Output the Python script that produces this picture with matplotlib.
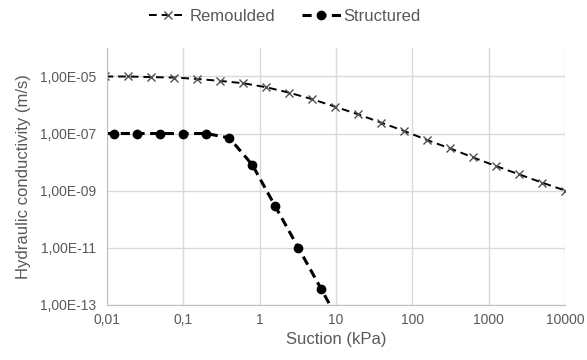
import numpy as np
import matplotlib
matplotlib.use("Agg")
import matplotlib.pyplot as plt
from matplotlib.ticker import FixedLocator, NullLocator

# Remoulded sample (first point sits just left of the axis and gets clipped)
suction_rem = [0.00954, 0.0191, 0.0381, 0.0763, 0.153, 0.305, 0.610, 1.22, 2.44,
               4.88, 9.77, 19.5, 39.1, 78.1, 156, 313, 625, 1250, 2500, 5000, 10000]
k_rem = [1.0e-5, 1.0e-5, 9.5e-6, 9.2e-6, 8.2e-6, 7.0e-6, 5.8e-6, 4.2e-6, 2.7e-6,
         1.6e-6, 8.7e-7, 4.7e-7, 2.4e-7, 1.23e-7, 5.9e-8, 3.0e-8, 1.45e-8,
         7.2e-9, 3.7e-9, 1.9e-9, 1.0e-9]

# Structured sample (first and last points are outside the plotted range)
suction_str = [0.00625, 0.0125, 0.025, 0.05, 0.1, 0.2, 0.4, 0.8, 1.6, 3.2, 6.4, 12.8]
k_str = [1.0e-7, 1.0e-7, 1.0e-7, 1.0e-7, 1.0e-7, 1.0e-7, 7.0e-8, 8.0e-9,
         2.8e-10, 1.0e-11, 3.5e-13, 1.2e-14]

x_ticks = [0.01, 0.1, 1, 10, 100, 1000, 10000]
x_labels = ["0,01", "0,1", "1", "10", "100", "1000", "10000"]
y_ticks = [1e-13, 1e-11, 1e-9, 1e-7, 1e-5]
y_labels = ["1,00E-13", "1,00E-11", "1,00E-09", "1,00E-07", "1,00E-05"]

plt.rcParams["font.family"] = ["Liberation Sans", "DejaVu Sans"]
txt = "#595959"
grid = "#D9D9D9"

fig = plt.figure(figsize=(5.87, 3.60), dpi=100)
ax = fig.add_axes([0.1823, 0.154, 0.7802, 0.7127])

ax.plot(suction_rem, k_rem, color="black", lw=1.4, dashes=(4, 2.5),
        marker="x", ms=6, mew=1.0, mec="#505050", label="Remoulded")
ax.plot(suction_str, k_str, color="black", lw=2.2, dashes=(3, 1.8),
        marker="o", ms=6, mfc="black", mec="black", label="Structured")

ax.set_xscale("log")
ax.set_yscale("log")
ax.set_xlim(0.01, 10000)
ax.set_ylim(1e-13, 1e-4)

ax.xaxis.set_major_locator(FixedLocator(x_ticks))
ax.xaxis.set_minor_locator(NullLocator())
ax.set_xticklabels(x_labels)
ax.yaxis.set_major_locator(FixedLocator(y_ticks))
ax.yaxis.set_minor_locator(NullLocator())
ax.set_yticklabels(y_labels)

ax.grid(True, color=grid, lw=1.0)
ax.set_axisbelow(True)
for s in ["top", "right"]:
    ax.spines[s].set_visible(False)
for s in ["left", "bottom"]:
    ax.spines[s].set_color("#BFBFBF")
ax.tick_params(axis="both", length=0, labelsize=10, colors=txt, pad=6)
ax.tick_params(axis="y", pad=8)

ax.set_xlabel("Suction (kPa)", fontsize=12, color=txt, labelpad=4)
ax.set_ylabel("Hydraulic conductivity (m/s)", fontsize=12, color=txt, labelpad=6)

fig.legend(loc="center", bbox_to_anchor=(0.485, 0.955), ncol=2, frameon=False,
           fontsize=12, handlelength=2.3, columnspacing=1.6, handletextpad=0.15,
           labelcolor=txt)

fig.savefig("out.png", dpi=100)
